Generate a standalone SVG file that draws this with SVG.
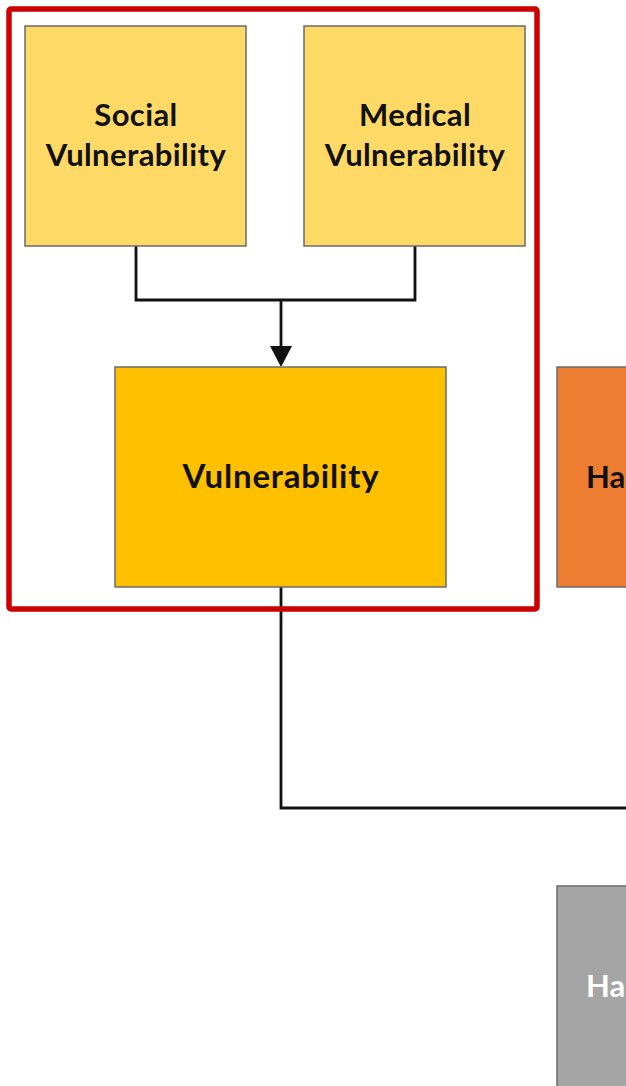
<svg xmlns="http://www.w3.org/2000/svg" width="626" height="1086" viewBox="0 0 626 1086">
  <style>
    .box { stroke: #6b6b6b; stroke-width: 1.5; }
    .lbl { font-family: Lato, "Open Sans", "Liberation Sans", sans-serif; font-weight: bold; font-size: 31px; letter-spacing: 0.4px; fill: #111; text-anchor: middle; }
    .big { font-size: 33px; letter-spacing: 0.8px; }
    .lblL { font-family: Lato, "Open Sans", "Liberation Sans", sans-serif; font-weight: bold; font-size: 31px; fill: #111; }
    .conn { fill: none; stroke: #111; stroke-width: 2.8; }
  </style>
  <rect width="626" height="1086" fill="#ffffff"/>

  <g id="connectors">
    <path class="conn" d="M136,246 V300 H415 V246"/>
    <path class="conn" d="M281,300 V348"/>
    <path d="M270,346 L292,346 L281,367 z" fill="#111"/>
    <path class="conn" d="M281,587 V808 H626"/>
  </g>

  <g id="social">
    <rect class="box" x="25" y="26" width="221" height="220" fill="#FFD966"/>
    <text class="lbl" x="136" y="126">Social</text>
    <text class="lbl" x="136" y="166">Vulnerability</text>
  </g>

  <g id="medical">
    <rect class="box" x="304" y="26" width="221" height="220" fill="#FFD966"/>
    <text class="lbl" x="415" y="126">Medical</text>
    <text class="lbl" x="415" y="166">Vulnerability</text>
  </g>

  <g id="vulnerability">
    <rect class="box" x="115" y="367" width="331" height="220" fill="#FFC000"/>
    <text class="lbl big" x="281" y="488">Vulnerability</text>
  </g>

  <g id="hazard">
    <rect class="box" x="557" y="367" width="80" height="220" fill="#ED7D31"/>
    <text class="lblL" x="586" y="488">Ha</text>
  </g>

  <g id="hazard2">
    <rect class="box" x="557" y="886" width="80" height="210" fill="#A5A5A5"/>
    <text class="lblL" x="586" y="997" style="fill:#ffffff">Ha</text>
  </g>

  <g id="group-frame">
    <rect x="9" y="9" width="528" height="600" rx="2" fill="none" stroke="#CC0000" stroke-width="5.5"/>
  </g>
</svg>
